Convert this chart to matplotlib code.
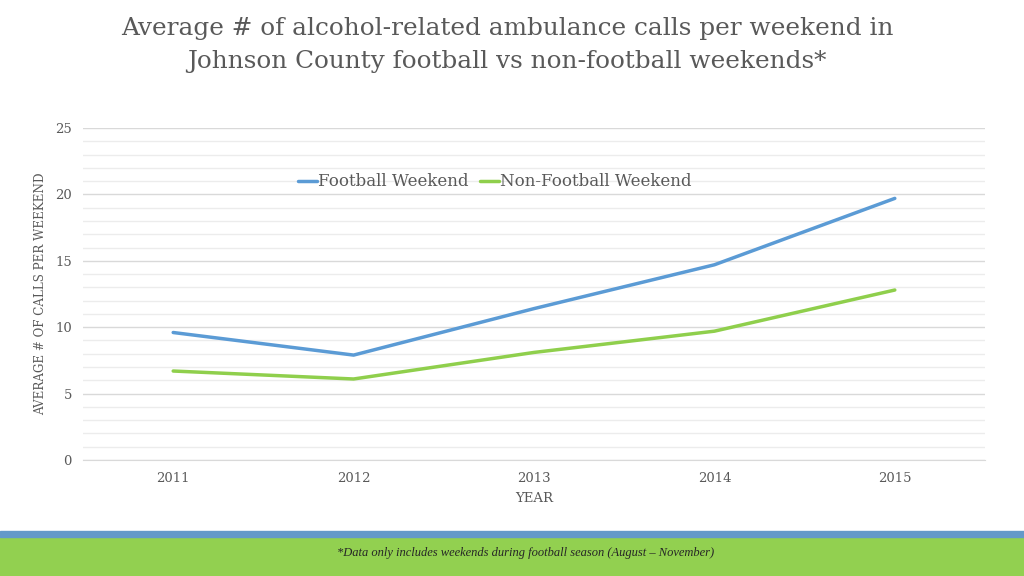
import matplotlib
matplotlib.use("Agg")
import matplotlib.pyplot as plt
from matplotlib.ticker import MultipleLocator
from matplotlib.patches import Rectangle

years = ["2011", "2012", "2013", "2014", "2015"]
football = [9.6, 7.9, 11.4, 14.7, 19.7]
non_football = [6.7, 6.1, 8.1, 9.7, 12.8]

title = "Average # of alcohol-related ambulance calls per weekend in\nJohnson County football vs non-football weekends*"
footnote = "*Data only includes weekends during football season (August \u2013 November)"

serif = ["DejaVu Serif"]
gray = "#595959"

fig = plt.figure(figsize=(10.24, 5.76), dpi=100)
fig.patch.set_facecolor("white")

# bottom band
fig.patches.append(Rectangle((0, 0), 1, 39/576, transform=fig.transFigure, color="#92d050", zorder=0))
fig.patches.append(Rectangle((0, 39/576), 1, 6/576, transform=fig.transFigure, color="#6399c9", zorder=0))
fig.text(526/1024, 1 - 553/576, footnote, ha="center", va="center", fontsize=9,
         style="italic", family=["Liberation Serif", "DejaVu Sans"], color="#262626")

fig.text(507/1024, 1 - 45/576, title, ha="center", va="center", fontsize=17.8,
         family=serif, color=gray, linespacing=1.6)

ax = fig.add_axes([83/1024, 1 - 460/576, (985 - 83)/1024, (460 - 128)/576])
x = list(range(len(years)))
ax.plot(x, football, color="#5b9bd5", lw=2.5, label="Football Weekend", solid_capstyle="round")
ax.plot(x, non_football, color="#8fcf4c", lw=2.5, label="Non-Football Weekend", solid_capstyle="round")

ax.set_xlim(-0.5, 4.5)
ax.set_ylim(0, 25)
ax.set_xticks(x)
ax.set_xticklabels(years)
ax.yaxis.set_major_locator(MultipleLocator(5))
ax.yaxis.set_minor_locator(MultipleLocator(1))
ax.grid(axis="y", which="major", color="#d9d9d9", lw=1)
ax.grid(axis="y", which="minor", color="#ececec", lw=1)
ax.set_axisbelow(True)
for s in ["top", "right", "left"]:
    ax.spines[s].set_visible(False)
ax.spines["bottom"].set_color("#d9d9d9")
ax.tick_params(axis="both", which="both", length=0, labelsize=9.5, labelcolor=gray)
ax.tick_params(axis="x", pad=9)
ax.tick_params(axis="y", pad=8)
for lab in ax.get_xticklabels() + ax.get_yticklabels():
    lab.set_family(serif)

ax.set_xlabel("YEAR", fontsize=9.5, color=gray, family=serif, labelpad=5)
ax.set_ylabel("AVERAGE # OF CALLS PER WEEKEND", fontsize=8.6, color=gray, family=serif, labelpad=6)

leg = ax.legend(loc="center", ncol=2, frameon=False,
                prop={"family": serif, "size": 12}, handlelength=1.1, handletextpad=0.1,
                columnspacing=0.7, labelcolor=gray)
leg.set_bbox_to_anchor(((495 - 83) / (985 - 83), (460 - 182) / (460 - 128)), transform=ax.transAxes)

fig.savefig("out.png", dpi=100)
